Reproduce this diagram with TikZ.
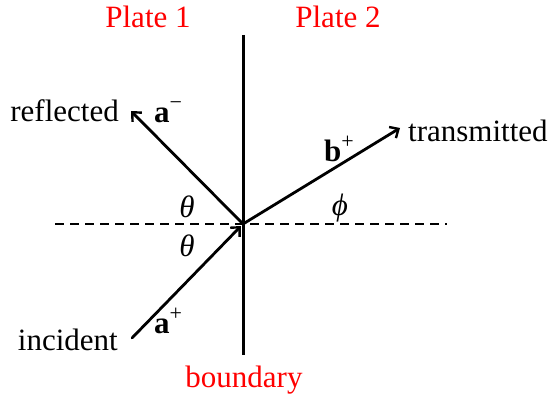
\documentclass[tikz,border=0pt]{standalone}
\usepackage{fontspec}
\IfFontExistsTF{LiberationSerif-Regular.ttf}{%
  \setmainfont{LiberationSerif}[Extension=.ttf, UprightFont=*-Regular, BoldFont=*-Bold, ItalicFont=*-Italic, BoldItalicFont=*-BoldItalic]}{%
  \setmainfont{Latin Modern Roman}}
\usetikzlibrary{arrows.meta,calc}
\newcommand{\supr}[1]{\raisebox{0.42em}{\fontsize{22}{24}\selectfont #1}}
\begin{document}
\begin{tikzpicture}[x=1pt,y=-1pt,
  txt/.style={font=\rmfamily\fontsize{31}{36}\selectfont, inner sep=0pt},
  red label/.style={txt, text=red},
  ray/.style={line width=2.8pt, line cap=round, -{Straight Barb[length=7pt,width=13pt,line width=2.4pt]}},
  wall/.style={line width=3pt},
  guide/.style={line width=1.8pt, dash pattern=on 9pt off 6pt}]
\useasboundingbox (0,0) rectangle (552,406);
\coordinate (O) at (243,224);
\coordinate (Btop) at (243,35);
\coordinate (Bbot) at (243,355);
\coordinate (Dl) at (55,224);
\coordinate (Dr) at (447,224);
\coordinate (R) at (131,111);
\coordinate (T) at (400,128);
\coordinate (I) at (132,338);
\coordinate (Iend) at ($(O)+(-2,2)$);
% lines
\draw[guide] (Dl) -- (Dr);
\draw[wall] (Btop) -- (Bbot);
\draw[ray] (O) -- (R);
\draw[ray] (O) -- (T);
\draw[ray] (I) -- (Iend);
% labels
\node[red label] (p1) at (148,17) {Plate 1};
\node[red label] (p2) at (338,17) {Plate 2};
\node[red label] (bd) at (244,380) {boundary};
\node[txt, anchor=east] (refl) at (119,111) {reflected};
\node[txt, anchor=west] (trans) at (408,131) {transmitted};
\node[txt, anchor=east] (inc) at (118,340) {incident};
\node[txt] (am) at (168,112) {\textbf{a}\supr{−}};
\node[txt] (bp) at (339,149) {\textbf{b}\supr{+}};
\node[txt] (ap) at (168,321) {\textbf{a}\supr{+}};
\node[txt] (th1) at (187,207) {\textit{θ}};
\node[txt] (th2) at (187,246) {\textit{θ}};
\node[txt] (ph) at (340,208) {\textit{ϕ}};
\end{tikzpicture}
\end{document}
